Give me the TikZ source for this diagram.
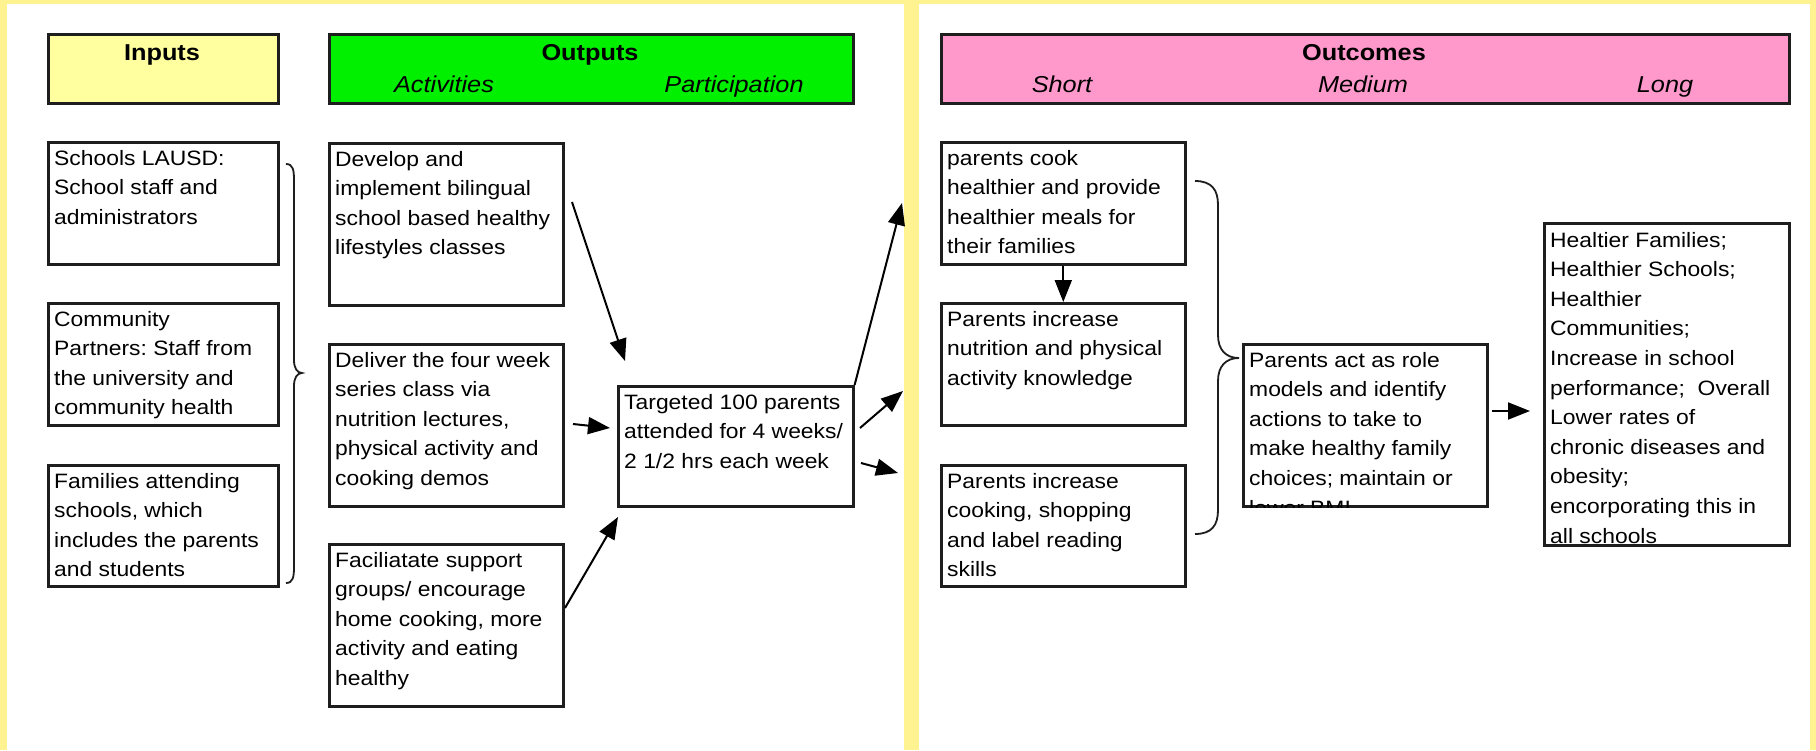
\documentclass[tikz,border=0pt]{standalone}
\usepackage{fontspec}
\setmainfont{Liberation Sans}[FakeStretch=1.1]
\usetikzlibrary{arrows.meta}
\definecolor{bgyellow}{RGB}{255,243,145}
\definecolor{inyellow}{RGB}{255,255,160}
\definecolor{outgreen}{RGB}{0,240,0}
\definecolor{outpink}{RGB}{255,153,204}
\definecolor{edgec}{RGB}{30,30,30}
\newcommand{\bodytext}[1]{\parbox[t]{300pt}{\fontsize{20.8}{29.6}\selectfont\frenchspacing\raggedright #1}}
\begin{document}
\begin{tikzpicture}[x=1pt,y=-1pt,
  box/.style={draw=edgec, line width=2.6pt, fill=white, anchor=north west, inner sep=0pt},
  hdr/.style={draw=edgec, line width=3pt, anchor=north west, inner sep=0pt, minimum height=69pt},
  txt/.style={anchor=base west, inner sep=0pt},
  hbold/.style={anchor=base, inner sep=0pt, font=\fontsize{23}{27}\selectfont\bfseries},
  hital/.style={anchor=base, inner sep=0pt, font=\fontsize{23}{27}\selectfont\itshape},
  arr/.style={draw=black, line width=2pt, -{Triangle[length=22pt,width=17pt]}},
  bracel/.style={draw=edgec, line width=1.8pt}]
\useasboundingbox (0,0) rectangle (1816,750);
\fill[bgyellow] (0,0) rectangle (1816,750);
\fill[white] (7,4) rectangle (904,750);
\fill[white] (919,4) rectangle (1810,750);

% headers
\node[hdr, fill=inyellow, minimum width=230pt] (inh) at (47,33) {};
\node[hbold] (inht) at (162,60) {Inputs};
\node[hdr, fill=outgreen, minimum width=524pt] (outh) at (328,33) {};
\node[hbold] (outht) at (590,60) {Outputs};
\node[hital] (acth) at (444,92) {Activities};
\node[hital] (parth) at (734,92) {Participation};
\node[hdr, fill=outpink, minimum width=848pt] (ocmh) at (940,33) {};
\node[hbold] (ocmht) at (1364,60) {Outcomes};
\node[hital] (shh) at (1062,92) {Short};
\node[hital] (medh) at (1363,92) {Medium};
\node[hital] (lgh) at (1665,92) {Long};

% inputs
\node[box, minimum width=230pt, minimum height=122pt] (in1) at (47,141) {};
\node[txt] (in1t) at ([shift={(7,24)}]in1.north west) {\bodytext{Schools LAUSD:\\School staff and\\administrators}};
\node[box, minimum width=230pt, minimum height=122pt] (in2) at (47,302) {};
\node[txt] (in2t) at ([shift={(7,24)}]in2.north west) {\bodytext{Community\\Partners: Staff from\\the university and\\community health}};
\node[box, minimum width=230pt, minimum height=121pt] (in3) at (47,464) {};
\node[txt] (in3t) at ([shift={(7,24)}]in3.north west) {\bodytext{Families attending\\schools, which\\includes the parents\\and students}};

% activities
\node[box, minimum width=234pt, minimum height=162pt] (ac1) at (328,142) {};
\node[txt] (ac1t) at ([shift={(7,24)}]ac1.north west) {\bodytext{Develop and\\implement bilingual\\school based healthy\\lifestyles classes}};
\node[box, minimum width=234pt, minimum height=162pt] (ac2) at (328,343) {};
\node[txt] (ac2t) at ([shift={(7,24)}]ac2.north west) {\bodytext{Deliver the four week\\series class via\\nutrition lectures,\\physical activity and\\cooking demos}};
\node[box, minimum width=234pt, minimum height=162pt] (ac3) at (328,543) {};
\node[txt] (ac3t) at ([shift={(7,24)}]ac3.north west) {\bodytext{Faciliatate support\\groups/ encourage\\home cooking, more\\activity and eating\\healthy}};

% participation
\node[box, minimum width=235pt, minimum height=120pt] (tgt) at (617,385) {};
\node[txt] (tgtt) at ([shift={(7,24)}]tgt.north west) {\bodytext{Targeted 100 parents\\attended for 4 weeks/\\2 1/2 hrs each week}};

% short
\node[box, minimum width=244pt, minimum height=122pt] (sh1) at (940,141) {};
\node[txt] (sh1t) at ([shift={(7,24)}]sh1.north west) {\bodytext{parents cook\\healthier and provide\\healthier meals for\\their families}};
\node[box, minimum width=244pt, minimum height=122pt] (sh2) at (940,302) {};
\node[txt] (sh2t) at ([shift={(7,24)}]sh2.north west) {\bodytext{Parents increase\\nutrition and physical\\activity knowledge}};
\node[box, minimum width=244pt, minimum height=121pt] (sh3) at (940,464) {};
\node[txt] (sh3t) at ([shift={(7,24)}]sh3.north west) {\bodytext{Parents increase\\cooking, shopping\\and label reading\\skills}};

% medium
\node[box, minimum width=244pt, minimum height=162pt] (med) at (1242,343) {};
\begin{scope}
\clip (med.north west) rectangle (med.south east);
\node[txt] (medt) at ([shift={(7,24)}]med.north west) {\bodytext{Parents act as role\\models and identify\\actions to take to\\make healthy family\\choices; maintain or\\lower BMI}};
\end{scope}

% long
\node[box, minimum width=245pt, minimum height=322pt] (lng) at (1543,222) {};
\begin{scope}
\clip (lng.north west) rectangle (lng.south east);
\node[txt] (lngt) at ([shift={(7,25)}]lng.north west) {\bodytext{Healtier Families;\\Healthier Schools;\\Healthier\\Communities;\\Increase in school\\performance;\ \ Overall\\Lower rates of\\chronic diseases and\\obesity;\\encorporating this in\\all schools}};
\end{scope}

% braces
\draw[bracel] (286,164) .. controls (293,164) and (294,170) .. (294,180) -- (294,360)
  .. controls (294,368) and (297,373) .. (302,373) .. controls (297,373) and (294,378) .. (294,386)
  -- (294,567) .. controls (294,577) and (293,583) .. (286,583);
\draw[bracel] (1195,181) .. controls (1212,181) and (1218,190) .. (1218,205) -- (1218,335)
  .. controls (1218,350) and (1226,358) .. (1239,358) .. controls (1226,358) and (1218,366) .. (1218,381)
  -- (1218,510) .. controls (1218,525) and (1212,534) .. (1195,534);

% arrow end points
\coordinate (a1s) at (572,202);
\coordinate (a1e) at (625,361);
\coordinate (a2s) at (573,424);
\coordinate (a2e) at (610,428);
\coordinate (a3s) at (565,608);
\coordinate (a3e) at (618,517);
\coordinate (b1e) at (902,203);
\coordinate (b2s) at (860,428);
\coordinate (b2e) at (903,391);
\coordinate (b3s) at (861,463);
\coordinate (b3e) at (898,473);
\coordinate (c2s) at (1492,411);
\coordinate (c2e) at (1530,411);

\draw[arr] (a1s) -- (a1e);
\draw[arr] (a2s) -- (a2e);
\draw[arr] (a3s) -- (a3e);
\draw[arr] (tgt.north east) -- (b1e);
\draw[arr] (b2s) -- (b2e);
\draw[arr] (b3s) -- (b3e);
\draw[arr] (sh1.south) -- (sh2.north);
\draw[arr] (c2s) -- (c2e);
\end{tikzpicture}
\end{document}
